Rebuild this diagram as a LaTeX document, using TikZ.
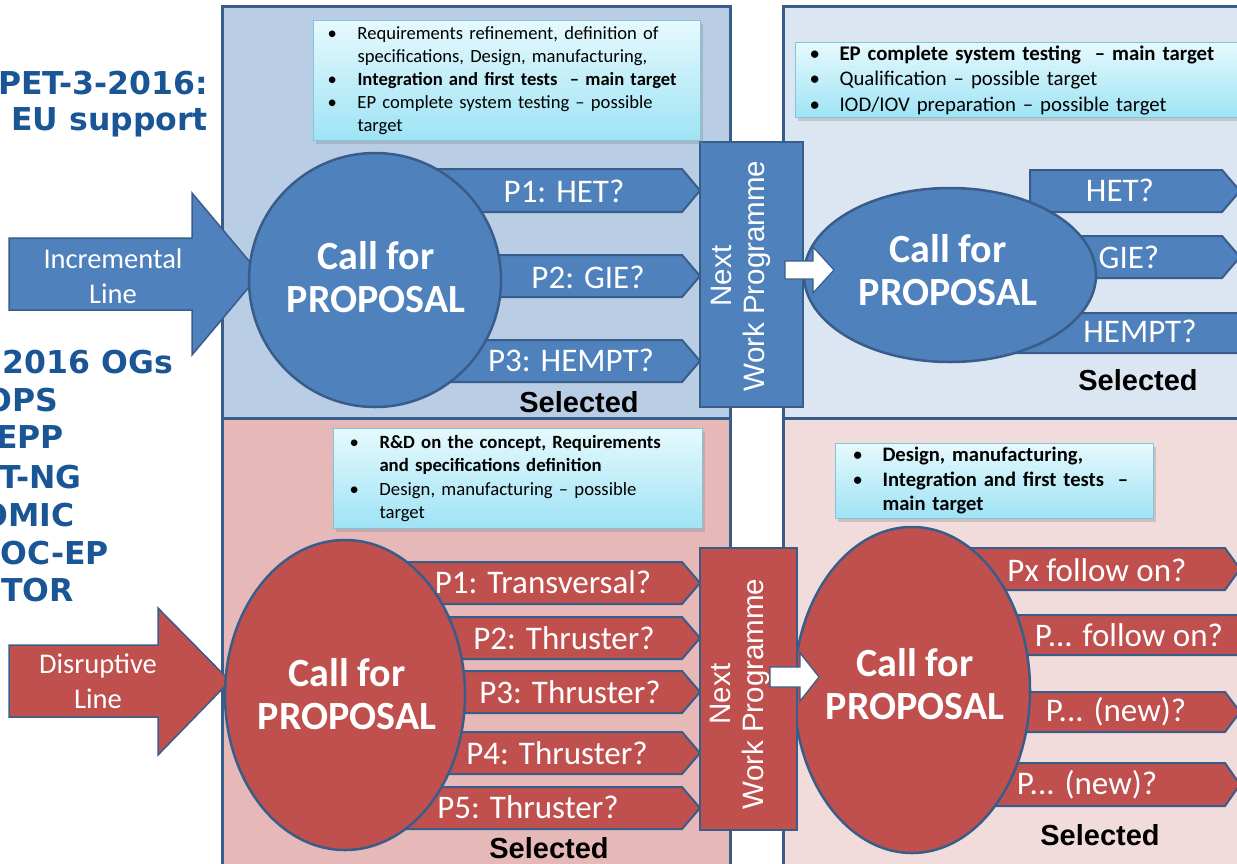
\documentclass[tikz,border=0pt]{standalone}
\usepackage{fontspec}
\setmainfont{Carlito}
\newfontfamily\arialfont{Liberation Sans}
\newfontfamily\verdanafont{DejaVu Sans}
\usetikzlibrary{shapes.geometric,shadows}

\definecolor{ppblue}{HTML}{4F81BD}
\definecolor{ppred}{HTML}{C0504D}
\definecolor{ppedge}{HTML}{385D8A}
\definecolor{panelblue}{HTML}{B9CDE5}
\definecolor{panelpale}{HTML}{DCE6F2}
\definecolor{panelrose}{HTML}{E6B9B8}
\definecolor{panelpink}{HTML}{F2DCDB}
\definecolor{notetop}{HTML}{E6F9FD}
\definecolor{notebot}{HTML}{9EE3F5}
\definecolor{noteedge}{HTML}{7FC6D8}
\definecolor{titleblue}{HTML}{1A5596}

\newcommand{\bul}{\makebox[30pt][l]{\textbullet}}
\newcommand{\ind}{\hspace*{30pt}}

\begin{document}
\begin{tikzpicture}[x=1pt,y=-1pt]

\useasboundingbox (0,0) rectangle (1237,863);
\clip (0,0) rectangle (1237,863);

% left titles
\tikzset{title/.style={anchor=east,inner sep=0pt,text=titleblue,font=\verdanafont\bfseries\fontsize{31.5pt}{33pt}\selectfont}}
\node[title] (compet) at (208,83) {PET-3-2016:};
\node[title] (eusupport) at (208,122) {EU support};
\node[title] (ogs) at (173,362) {2016 OGs};
\node[title] (ogops) at (58,400) {OPS};
\node[title] (ogepp) at (64,437) {EPP};
\node[title] (ogtng) at (82,477) {T-NG};
\node[title] (ogomic) at (75,515) {OMIC};
\node[title] (ogocep) at (109,553) {OC-EP};
\node[title] (ogtor) at (74,590) {TOR};

% panels
\tikzset{panel/.style={draw=ppedge,line width=3pt}}
\draw[panel,fill=panelblue] (222,6) rectangle (730,418);
\draw[panel,fill=panelpale] (783,6) rectangle (1250,418);
\draw[panel,fill=panelrose] (222,418) rectangle (730,875);
\draw[panel,fill=panelpink] (783,418) rectangle (1250,875);

% incoming lines
\tikzset{bigarrow/.style={draw=ppedge,line width=1.5pt,line join=miter}}
\draw[bigarrow,fill=ppblue] (9,238) -- (192,238) -- (192,193) -- (260,274) -- (192,355) -- (192,310) -- (9,310) -- cycle;
\draw[bigarrow,fill=ppred] (9,645) -- (158,645) -- (158,608) -- (230,681) -- (158,755) -- (158,717) -- (9,717) -- cycle;

\tikzset{linelabel/.style={align=center,inner sep=0pt,text=white,font=\fontsize{28.5pt}{35pt}\selectfont}}
\node[linelabel] (incremental) at (113,276) {Incremental\\Line};
\node[linelabel] (disruptive) at (98,681) {Disruptive\\Line};

% proposals
\tikzset{bar/.style={draw=ppedge,line width=2pt,line join=miter}}
\draw[bar,fill=ppblue] (410,169) -- (682,169) -- (700,190.5) -- (682,212) -- (410,212) -- cycle;
\draw[bar,fill=ppblue] (450,255) -- (682,255) -- (700,276) -- (682,297) -- (450,297) -- cycle;
\draw[bar,fill=ppblue] (420,340) -- (682,340) -- (700,361) -- (682,382) -- (420,382) -- cycle;

\draw[bar,fill=ppblue] (1030,170) -- (1222,170) -- (1240,191) -- (1222,212) -- (1030,212) -- cycle;
\draw[bar,fill=ppblue] (1060,236) -- (1222,236) -- (1240,257) -- (1222,278) -- (1060,278) -- cycle;
\draw[bar,fill=ppblue] (1000,313) -- (1250,313) -- (1268,333) -- (1250,353) -- (1000,353) -- cycle;

\draw[bar,fill=ppred] (400,562) -- (682,562) -- (700,583) -- (682,604) -- (400,604) -- cycle;
\draw[bar,fill=ppred] (430,617) -- (682,617) -- (700,638) -- (682,659) -- (430,659) -- cycle;
\draw[bar,fill=ppred] (440,671) -- (682,671) -- (700,692) -- (682,713) -- (440,713) -- cycle;
\draw[bar,fill=ppred] (430,732) -- (682,732) -- (700,753) -- (682,774) -- (430,774) -- cycle;
\draw[bar,fill=ppred] (400,787) -- (682,787) -- (700,808) -- (682,829) -- (400,829) -- cycle;

\draw[bar,fill=ppred] (960,548) -- (1225,548) -- (1240,569) -- (1225,590) -- (960,590) -- cycle;
\draw[bar,fill=ppred] (980,615) -- (1250,615) -- (1265,635) -- (1250,655) -- (980,655) -- cycle;
\draw[bar,fill=ppred] (1000,692) -- (1225,692) -- (1240,712) -- (1225,732) -- (1000,732) -- cycle;
\draw[bar,fill=ppred] (980,763) -- (1225,763) -- (1240,784.5) -- (1225,806) -- (980,806) -- cycle;

\tikzset{barlabel/.style={inner sep=0pt,text=white,font=\fontsize{33pt}{35pt}\selectfont}}
\node[barlabel] (tlhet) at (564,191) {P1: HET?};
\node[barlabel] (tlgie) at (588,277) {P2: GIE?};
\node[barlabel] (tlhempt) at (571,360) {P3: HEMPT?};
\node[barlabel] (trhet) at (1120,190) {HET?};
\node[barlabel] (trgie) at (1129,257) {GIE?};
\node[barlabel] (trhempt) at (1140,331) {HEMPT?};
\node[barlabel] (bltrans) at (543,582) {P1: Transversal?};
\node[barlabel] (blthrb) at (564,638) {P2: Thruster?};
\node[barlabel] (blthrc) at (570,692) {P3: Thruster?};
\node[barlabel] (blthrd) at (557,753) {P4: Thruster?};
\node[barlabel] (blthre) at (528,807) {P5: Thruster?};
\node[barlabel] (brfollowa) at (1097,570) {Px follow on?};
\node[barlabel] (brfollowb) at (1129,635) {P... follow on?};
\node[barlabel] (brnewa) at (1116,712) {P... (new)?};
\node[barlabel] (brnewb) at (1087,785) {P... (new)?};

% calls
\tikzset{call/.style={ellipse,draw=ppedge,line width=2.5pt,inner sep=0pt}}
\node[call,fill=ppblue,minimum width=252pt,minimum height=254pt] (calltl) at (375,280) {};
\node[call,fill=ppblue,minimum width=292pt,minimum height=174pt] (calltr) at (950,275) {};
\node[call,fill=ppred,minimum width=240pt,minimum height=310pt] (callbl) at (345,695) {};
\node[call,fill=ppred,minimum width=236pt,minimum height=326pt] (callbr) at (912,690) {};

\tikzset{calltext/.style={align=center,inner sep=0pt,text=white,font=\bfseries\fontsize{40pt}{43pt}\selectfont}}
\node[calltext] (calltltext) at (376,277) {Call for\\PROPOSAL};
\node[calltext] (calltrtext) at (948,270) {Call for\\PROPOSAL};
\node[calltext] (callbltext) at (347,694) {Call for\\PROPOSAL};
\node[calltext] (callbrtext) at (915,684) {Call for\\PROPOSAL};

\tikzset{selected/.style={inner sep=0pt,font=\arialfont\bfseries\fontsize{29pt}{30pt}\selectfont}}
\node[selected] (seltl) at (579,402) {Selected};
\node[selected] (seltr) at (1138,380) {Selected};
\node[selected] (selbl) at (549,848) {Selected};
\node[selected] (selbr) at (1100,835) {Selected};

% next work programme
\tikzset{nwp/.style={draw=ppedge,line width=2.5pt,rotate=90,inner sep=0pt}}
\node[nwp,fill=ppblue,minimum width=265pt,minimum height=103pt] (nwptop) at (751.5,274.5) {};
\node[nwp,fill=ppred,minimum width=282pt,minimum height=97pt] (nwpbot) at (748.5,689) {};

\tikzset{nwptext/.style={rotate=90,align=center,inner sep=0pt,text=white,font=\arialfont\fontsize{29.5pt}{33pt}\selectfont}}
\node[nwptext] (nwptoptext) at (741,276) {Next\\Work Programme};
\node[nwptext] (nwpbottext) at (740,694) {Next\\Work Programme};

\tikzset{nextarrow/.style={fill=white,draw=ppedge,line width=1.2pt,line join=miter}}
\draw[nextarrow] (785,261) -- (813,261) -- (813,247) -- (834,270) -- (813,293) -- (813,279) -- (785,279) -- cycle;
\draw[nextarrow] (770,667) -- (800,667) -- (800,653) -- (819,677) -- (800,701) -- (800,687) -- (770,687) -- cycle;

% targets
\tikzset{note/.style={anchor=north west,align=left,draw=noteedge,line width=1pt,
  top color=notetop,bottom color=notebot,
  drop shadow={opacity=0.3,shadow xshift=2pt,shadow yshift=-3pt}}}
\node[note,inner xsep=14pt,inner ysep=0pt,text width=359pt,minimum height=120pt,font={\fontsize{18.6pt}{23pt}\selectfont}] (notetl) at (313,20)
  {\bul Requirements refinement, definition of\\
   \ind specifications, Design, manufacturing,\\
   \bul \textbf{Integration and first tests ~– main target}\\
   \bul EP complete system testing – possible\\
   \ind target};
\node[note,inner xsep=14pt,inner ysep=0pt,text width=427pt,minimum height=75pt,font={\fontsize{20.8pt}{25.5pt}\selectfont}] (notetr) at (795,42)
  {\bul \textbf{EP complete system testing ~– main target}\\
   \bul Qualification – possible target\\
   \bul IOD/IOV preparation – possible target};
\node[note,inner xsep=16pt,inner ysep=0pt,text width=337pt,minimum height=100pt,font={\fontsize{18.7pt}{23.3pt}\selectfont}] (notebl) at (333,428)
  {\bul \textbf{R\&D on the concept, Requirements}\\
   \ind \textbf{and specifications definition}\\
   \bul Design, manufacturing – possible\\
   \ind target};
\node[note,inner xsep=17pt,inner ysep=0pt,text width=284pt,minimum height=75pt,font={\fontsize{20.6pt}{24.5pt}\selectfont}] (notebr) at (835,443)
  {\bul \textbf{Design, manufacturing,}\\
   \bul \textbf{Integration and first tests ~–}\\
   \ind \textbf{main target}};

\end{tikzpicture}
\end{document}
